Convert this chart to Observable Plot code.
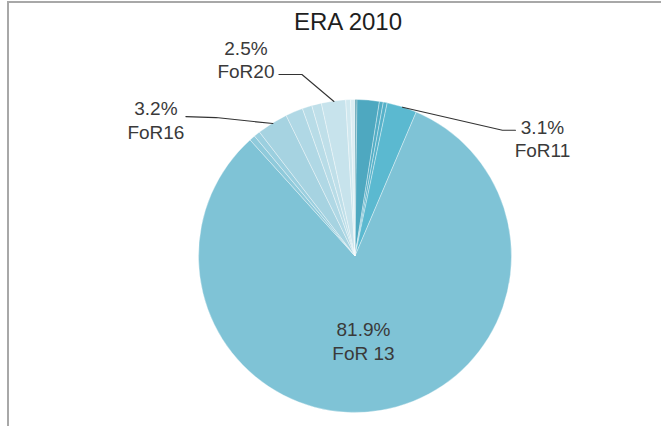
<!DOCTYPE html>
<html><head><meta charset="utf-8">
<script src="https://cdn.jsdelivr.net/npm/d3@7"></script>
<script src="https://cdn.jsdelivr.net/npm/@observablehq/plot@0.6"></script>
<style>
html,body{margin:0;padding:0;background:#fff;}
#wrap{position:relative;width:661px;height:426px;overflow:hidden;}
#frame{position:absolute;left:7px;top:1px;right:-5px;bottom:-5px;border-left:2px solid #a8a8a8;border-top:2px solid #a8a8a8;pointer-events:none;}
#chart svg{display:block;}
</style></head><body>
<div id="wrap"><div id="chart"></div><div id="frame"></div></div>
<script>
// ---- data ----
const title = "ERA 2010";
const categories = ["FoR01","FoR08","FoR09","FoR10","FoR11","FoR13","FoR14","FoR15","FoR16","FoR17","FoR18","FoR19","FoR20","FoR21","FoR22"];
const shares     = [0.2, 2.3, 0.4, 0.4, 3.1, 81.9, 0.6, 0.65, 3.2, 1.8, 1.0, 1.0, 2.5, 0.5, 0.45];
const colors     = ["#3c8fa3","#4ea8c0","#52adc5","#55b1c9","#5bb9d0","#7fc3d6","#8fcadb","#9bcfdf","#a6d3e1","#b0d8e5","#b8dce7","#bfdfe9","#c7e3ec","#d0e8ef","#dbedf3"];
const labelledCategories = ["FoR11","FoR13","FoR16","FoR20"];
const labelNames = ["FoR11","FoR 13","FoR16","FoR20"];
const labelPercents = ["3.1%","81.9%","3.2%","2.5%"];

// ---- layout (pixels) ----
const W = 661, H = 426, CX = 355, CY = 256, R = 156.5;
// per label: elbow offset, end offset, text centre offset, text top offset (px, relative to the anchor point)
const layout = {
  FoR11: {anchorR: 1, elbow: [100, 23], end: [113, 23], text: [140, 10]},
  FoR13: {anchorR: 0.5, elbow: null, end: null, text: [-5, -14]},
  FoR16: {anchorR: 1, elbow: [-57, -6], end: [-87, -7], text: [-117, -25]},
  FoR20: {anchorR: 1, elbow: [-32, -27], end: [-55, -27], text: [-88, -63]}
};

const data = categories.map((c, i) => ({category: c, share: shares[i]}));
const arcs = d3.pie().sort(null).value(d => d.share)(data);
const color = d3.scaleOrdinal(categories, colors);

const px = (u) => u / R; // pixel offset to unit
const leaders = [];
const labels = [];
labelledCategories.forEach((c, i) => {
  const a = arcs.find(d => d.data.category === c);
  const mid = (a.startAngle + a.endAngle) / 2;
  const L = layout[c];
  const ax = L.anchorR * Math.sin(mid), ay = L.anchorR * Math.cos(mid);
  if (L.elbow) {
    leaders.push({key: c, x: ax, y: ay});
    leaders.push({key: c, x: ax + px(L.elbow[0]), y: ay - px(L.elbow[1])});
    leaders.push({key: c, x: ax + px(L.end[0]), y: ay - px(L.end[1])});
  }
  labels.push({x: ax + px(L.text[0]), y: ay - px(L.text[1]), text: labelPercents[i] + "\n" + labelNames[i]});
});

function pieMark(index, scales) {
  const cx = scales.x(0), cy = scales.y(0), r = scales.x(1) - cx;
  const arc = d3.arc().innerRadius(0).outerRadius(r);
  const g = d3.create("svg:g").attr("transform", `translate(${cx},${cy})`);
  g.selectAll("path").data(arcs).join("path")
    .attr("d", arc)
    .attr("fill", d => color(d.data.category))
    .attr("stroke", "#ffffff")
    .attr("stroke-width", 0.6)
    .attr("stroke-opacity", 0.6);
  return g.node();
}

const font = "'Liberation Sans', Arial, Helvetica, sans-serif";
const chart = Plot.plot({
  width: W, height: H,
  margin: 0,
  style: {fontFamily: font, background: "transparent"},
  x: {domain: [-1, 1], range: [CX - R, CX + R], axis: null},
  y: {domain: [-1, 1], range: [CY + R, CY - R], axis: null},
  marks: [
    pieMark,
    Plot.line(leaders, {x: "x", y: "y", z: "key", stroke: "#333", strokeWidth: 1.1, curve: "linear"}),
    Plot.text(labels, {x: "x", y: "y", text: "text", lineAnchor: "top", lineHeight: 1.23, fontSize: 19, fill: "#3a3a3a", textAnchor: "middle"}),
    Plot.text([title], {text: d => d, frameAnchor: "top", dx: 17, dy: 12, lineAnchor: "top", fontSize: 24, fill: "#1e1e1e"})
  ]
});
document.getElementById("chart").appendChild(chart);
</script>
</body></html>
